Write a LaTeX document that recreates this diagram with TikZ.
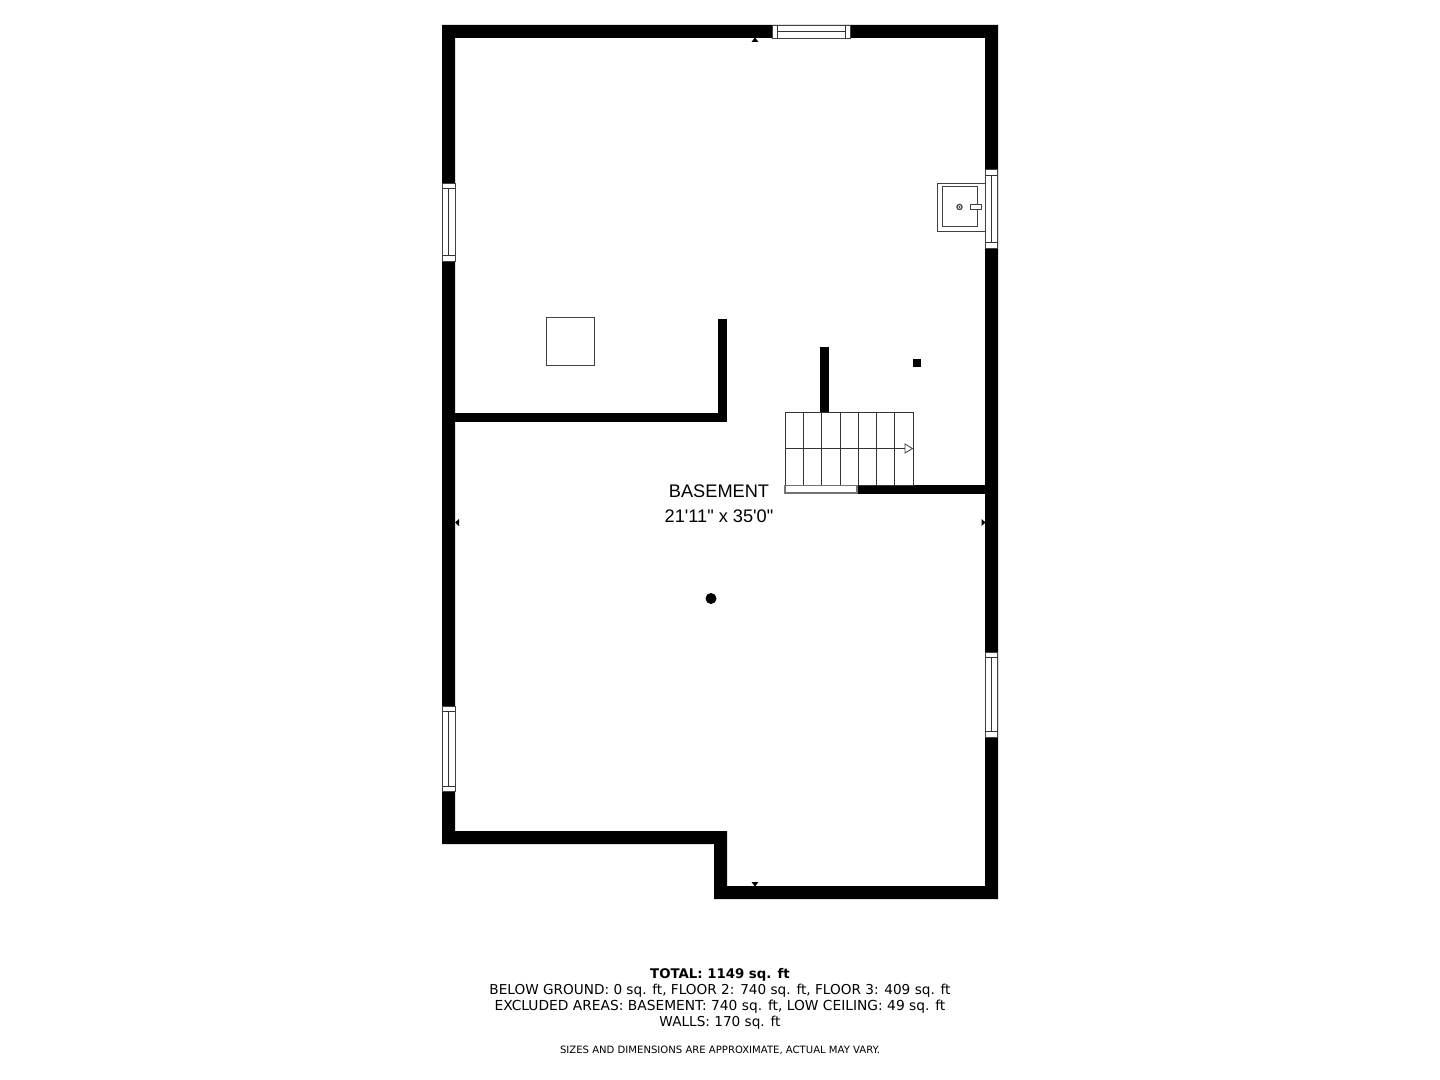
\documentclass[tikz,border=0pt]{standalone}
\usepackage{fontspec}
\setmainfont{DejaVu Sans}
\newfontfamily\labelfont{Liberation Sans}
\begin{document}
\begin{tikzpicture}[x=0.5pt,y=-0.5pt,
  wall/.style={fill=black,draw=none},
  fixture/.style={draw=black!75,line width=0.4pt,fill=white},
  glass/.style={draw=black!75,line width=0.48pt,fill=white},
  thin line/.style={draw=black!80,line width=0.48pt},
  tick mark/.style={fill=black,draw=none},
  room/.style={font=\labelfont\fontsize{9.1}{12.4}\selectfont,align=center,inner sep=0pt},
  note/.style={font=\fontsize{6.82}{8}\selectfont,inner sep=0pt,anchor=base}]
\useasboundingbox (0,0) rectangle (1440,1080);
% outer walls
\fill[wall,even odd rule]
  (442,25) -- (998,25) -- (998,899) -- (714,899) -- (714,844) -- (442,844) -- cycle
  (455,38) -- (985,38) -- (985,886) -- (727,886) -- (727,831) -- (455,831) -- cycle;
% interior walls
\fill[wall] (455,413) rectangle (727,422);
\fill[wall] (718,319) rectangle (727,422);
\fill[wall] (820,347) rectangle (829,412);
\fill[wall] (857,485) rectangle (985,494);
\fill[wall] (913,359) rectangle (921,367);
\fill[wall] (711,598.5) circle (5.5);
% windows
\draw[glass] (772,25) rectangle (850,38);
\draw[thin line] (777,25) -- (777,38) (845,25) -- (845,38) (777,31.5) -- (845,31.5);
\draw[glass] (442.5,183) rectangle (455,261);
\draw[thin line] (442.5,188) -- (455,188) (442.5,255.5) -- (455,255.5) (448.7,188) -- (448.7,255.5);
\draw[glass] (442.5,706) rectangle (455,791);
\draw[thin line] (442.5,711) -- (455,711) (442.5,786) -- (455,786) (448.7,711) -- (448.7,786);
\draw[glass] (985,169) rectangle (997.5,248);
\draw[thin line] (985,175) -- (997.5,175) (985,242) -- (997.5,242) (991.3,175) -- (991.3,242);
\draw[glass] (985,652) rectangle (997.5,737);
\draw[thin line] (985,657) -- (997.5,657) (985,731) -- (997.5,731) (991.3,657) -- (991.3,731);
% sink
\draw[fixture] (937.5,183) rectangle (985,231);
\draw[fixture,line width=0.5pt] (942,187) rectangle (977.5,227);
\draw[fixture,line width=0.6pt] (959.5,207) circle (2.6);
\fill[black!70] (959.5,207) circle (1.1);
\draw[fixture] (970,204) rectangle (981.5,209.5);
% square fixture
\draw[fixture] (546.5,317) rectangle (594.5,365);
% stairs
\draw[thin line] (785.5,412.5) rectangle (913,485);
\foreach \i in {1,...,6} \draw[thin line] ({785.5+\i*18.22},412.5) -- ({785.5+\i*18.22},485);
\draw[thin line] (785.5,448.5) -- (913,448.5);
\draw[fixture,fill=white] (905,444) -- (912.5,448.5) -- (905,453) -- cycle;
\draw[fixture,draw=black!55,line width=0.6pt] (785,485.5) rectangle (857,493);
% tick marks
\fill[tick mark] (755,37.5) -- (751.5,42) -- (758.5,42) -- cycle;
\fill[tick mark] (755,886.5) -- (751.5,882) -- (758.5,882) -- cycle;
\fill[tick mark] (455,522.5) -- (459,519) -- (459,526) -- cycle;
\fill[tick mark] (985.5,522.5) -- (981.5,519) -- (981.5,526) -- cycle;
% labels
\node[room] (roomlabel) at (719,503.5) {BASEMENT\\21'11" x 35'0"};
\node[note,font=\fontsize{6.65}{8}\selectfont] (total) at (720,978) {\bfseries TOTAL: 1149 sq. ft};
\node[note] (areas) at (720,994) {BELOW GROUND: 0 sq. ft, FLOOR 2: 740 sq. ft, FLOOR 3: 409 sq. ft};
\node[note,font=\fontsize{6.9}{8}\selectfont] (excluded) at (720,1010) {EXCLUDED AREAS: BASEMENT: 740 sq. ft, LOW CEILING: 49 sq. ft};
\node[note] (walls) at (720,1026) {WALLS: 170 sq. ft};
\node[note,font=\fontsize{5.04}{6}\selectfont] (disclaimer) at (720,1053) {SIZES AND DIMENSIONS ARE APPROXIMATE, ACTUAL MAY VARY.};
\end{tikzpicture}
\end{document}
